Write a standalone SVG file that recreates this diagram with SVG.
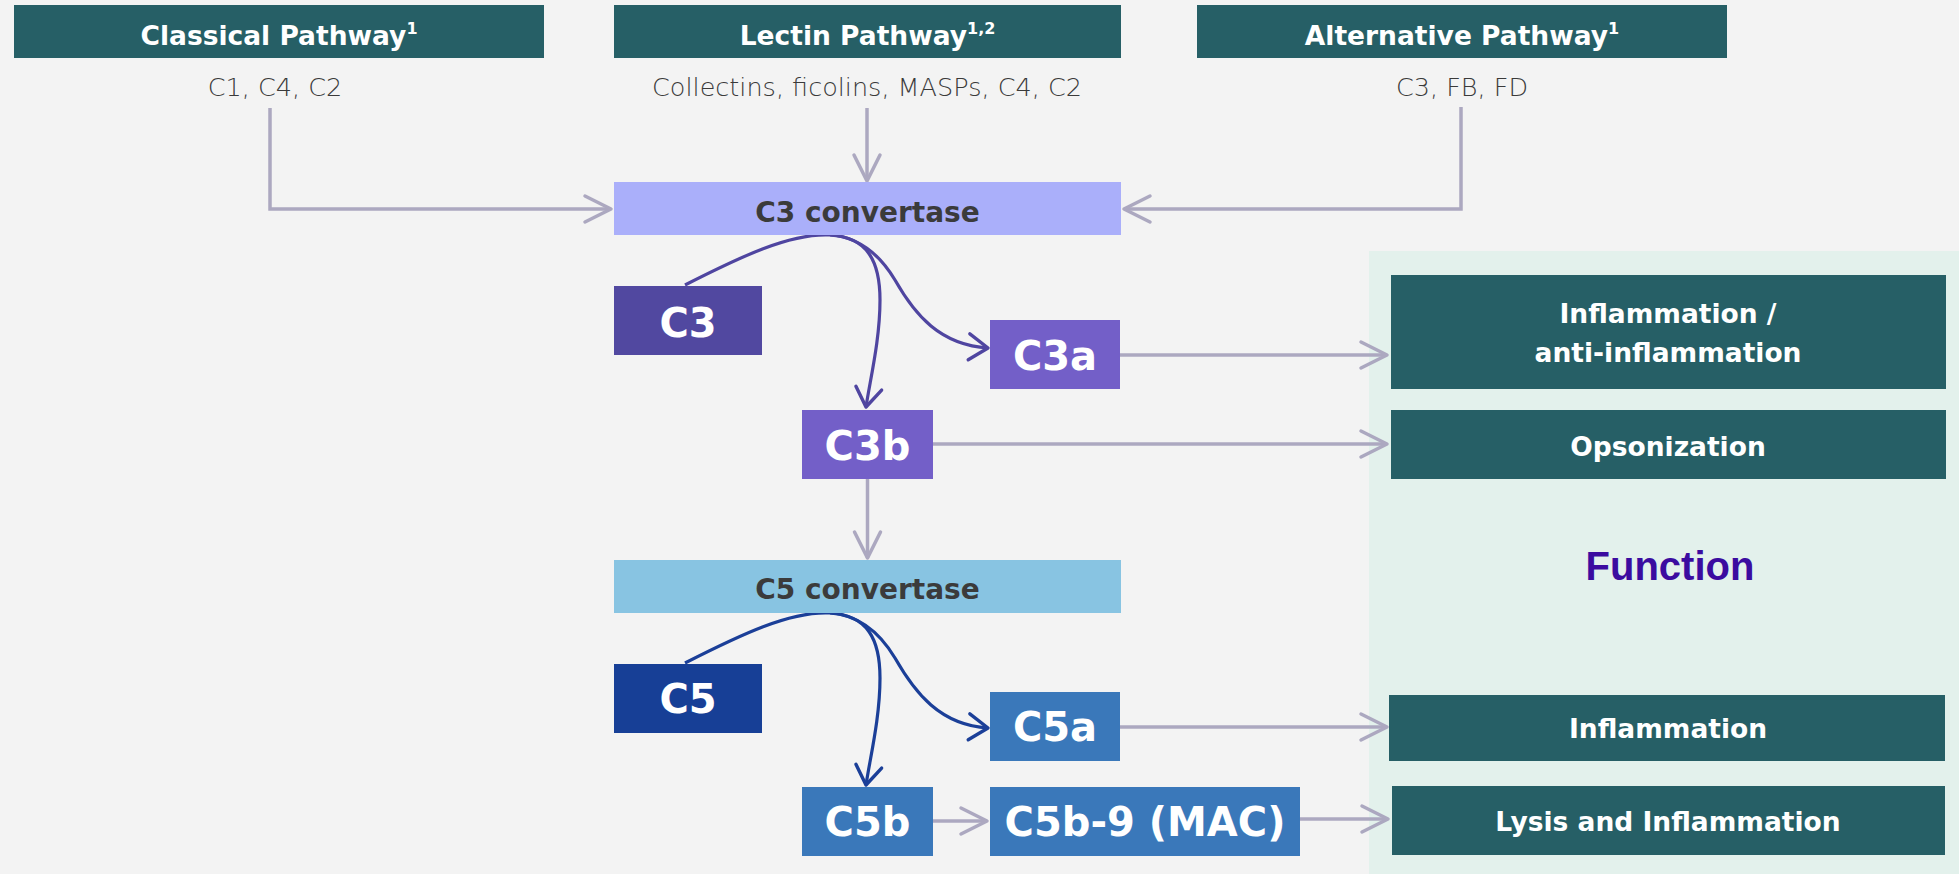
<svg xmlns="http://www.w3.org/2000/svg" width="1959" height="874" viewBox="0 0 1959 874">
  <style>
    .hdr { fill: #265f66; }
    .hdr-t { font-family: "DejaVu Sans", sans-serif; font-weight: bold; font-size: 26.5px; fill: #ffffff; text-anchor: middle; }
    .sup { font-size: 16px; }
    .sub { font-family: "DejaVu Sans", sans-serif; font-weight: 300; font-size: 25.5px; fill: #3a3a3a; text-anchor: middle; }
    .conv-t { font-family: "DejaVu Sans", sans-serif; font-weight: bold; font-size: 28px; fill: #3b3b3b; text-anchor: middle; }
    .box-t { font-family: "DejaVu Sans", sans-serif; font-weight: bold; font-size: 40px; fill: #ffffff; text-anchor: middle; }
    .fn-t { font-family: "DejaVu Sans", sans-serif; font-weight: bold; font-size: 26.5px; fill: #ffffff; text-anchor: middle; }
    .gray { fill: none; stroke: #aca8c0; stroke-width: 3.5; }
    .purple { fill: none; stroke: #4f45a0; stroke-width: 3.2; }
    .blue { fill: none; stroke: #1b3f98; stroke-width: 3.2; }
  </style>
  <defs>
    <marker id="arrGray" markerUnits="userSpaceOnUse" markerWidth="40" markerHeight="40" viewBox="-30 -20 40 40" refX="0" refY="0" orient="auto">
      <path d="M-26,-13 L0,0 L-26,13" fill="none" stroke="#aca8c0" stroke-width="3.5" stroke-linecap="round" stroke-linejoin="round"/>
    </marker>
    <marker id="arrPurple" markerUnits="userSpaceOnUse" markerWidth="40" markerHeight="40" viewBox="-30 -20 40 40" refX="0" refY="0" orient="auto">
      <path d="M-19,-13 L0,0 L-19,13" fill="none" stroke="#4f45a0" stroke-width="3.4" stroke-linecap="round" stroke-linejoin="round"/>
    </marker>
    <marker id="arrBlue" markerUnits="userSpaceOnUse" markerWidth="40" markerHeight="40" viewBox="-30 -20 40 40" refX="0" refY="0" orient="auto">
      <path d="M-19,-13 L0,0 L-19,13" fill="none" stroke="#1b3f98" stroke-width="3.4" stroke-linecap="round" stroke-linejoin="round"/>
    </marker>
  </defs>

  <!-- page background -->
  <rect x="0" y="0" width="1959" height="874" fill="#f3f3f3"/>

  <!-- function panel -->
  <g id="function-panel">
    <rect x="1369" y="251" width="590" height="623" fill="#e3f1ec"/>
    <text x="1670" y="580" font-family="'Liberation Sans', sans-serif" font-weight="bold" font-size="40" fill="#3b0ca0" text-anchor="middle">Function</text>
  </g>

  <!-- pathway headers -->
  <g id="classical-pathway">
    <rect class="hdr" x="14" y="5" width="530" height="53"/>
    <text class="hdr-t" x="279" y="45">Classical Pathway<tspan class="sup" dy="-11">1</tspan></text>
    <text class="sub" x="275" y="96">C1, C4, C2</text>
  </g>
  <g id="lectin-pathway">
    <rect class="hdr" x="614" y="5" width="507" height="53"/>
    <text class="hdr-t" x="867.5" y="45">Lectin Pathway<tspan class="sup" dy="-11">1,2</tspan></text>
    <text class="sub" x="867" y="96">Collectins, ficolins, MASPs, C4, C2</text>
  </g>
  <g id="alternative-pathway">
    <rect class="hdr" x="1197" y="5" width="530" height="53"/>
    <text class="hdr-t" x="1462" y="45">Alternative Pathway<tspan class="sup" dy="-11">1</tspan></text>
    <text class="sub" x="1462" y="96">C3, FB, FD</text>
  </g>

  <!-- connectors -->
  <g id="connectors">
    <path class="gray" d="M270,108 V209 H611" marker-end="url(#arrGray)"/>
    <path class="gray" d="M867,108 V181" marker-end="url(#arrGray)"/>
    <path class="gray" d="M1461,107 V209 H1124" marker-end="url(#arrGray)"/>
    <path class="gray" d="M1120,355 H1387" marker-end="url(#arrGray)"/>
    <path class="gray" d="M933,444 H1387" marker-end="url(#arrGray)"/>
    <path class="gray" d="M867.5,479 V558" marker-end="url(#arrGray)"/>
    <path class="gray" d="M1120,727 H1387" marker-end="url(#arrGray)"/>
    <path class="gray" d="M933,821 H987" marker-end="url(#arrGray)"/>
    <path class="gray" d="M1300,819 H1388" marker-end="url(#arrGray)"/>

    <path class="purple" d="M685,285 C740,257 790,233 830,235 C868,237 880,262 880,300 C880,340 870,380 866,407" marker-end="url(#arrPurple)"/>
    <path class="purple" d="M830,235 C860,237 880,255 895,280 C915,315 940,345 988,348" marker-end="url(#arrPurple)"/>

    <path class="blue" d="M685,663 C740,635 790,611 830,613 C868,615 880,640 880,678 C880,718 870,758 866,785" marker-end="url(#arrBlue)"/>
    <path class="blue" d="M830,613 C860,615 880,633 895,658 C915,693 940,725 988,728" marker-end="url(#arrBlue)"/>
  </g>

  <!-- C3 stage -->
  <g id="c3-convertase">
    <rect x="614" y="182" width="507" height="53" fill="#aaaffa"/>
    <text class="conv-t" x="867.5" y="222">C3 convertase</text>
  </g>
  <g id="c3">
    <rect x="614" y="286" width="148" height="69" fill="#5148a0"/>
    <text class="box-t" x="688" y="337">C3</text>
  </g>
  <g id="c3a">
    <rect x="990" y="320" width="130" height="69" fill="#735fc8"/>
    <text class="box-t" x="1055" y="370">C3a</text>
  </g>
  <g id="c3b">
    <rect x="802" y="410" width="131" height="69" fill="#735fc8"/>
    <text class="box-t" x="867.5" y="460">C3b</text>
  </g>

  <!-- C5 stage -->
  <g id="c5-convertase">
    <rect x="614" y="560" width="507" height="53" fill="#88c4e2"/>
    <text class="conv-t" x="867.5" y="599">C5 convertase</text>
  </g>
  <g id="c5">
    <rect x="614" y="664" width="148" height="69" fill="#173f96"/>
    <text class="box-t" x="688" y="713">C5</text>
  </g>
  <g id="c5a">
    <rect x="990" y="692" width="130" height="69" fill="#3a78ba"/>
    <text class="box-t" x="1055" y="741">C5a</text>
  </g>
  <g id="c5b">
    <rect x="802" y="787" width="131" height="69" fill="#3a78ba"/>
    <text class="box-t" x="867.5" y="836">C5b</text>
  </g>
  <g id="c5b-9-mac">
    <rect x="990" y="787" width="310" height="69" fill="#3a78ba"/>
    <text class="box-t" x="1145" y="836">C5b-9 (MAC)</text>
  </g>

  <!-- function outcomes -->
  <g id="fn-inflammation-anti">
    <rect class="hdr" x="1391" y="275" width="555" height="114"/>
    <text class="fn-t" x="1668" y="323">Inflammation /</text>
    <text class="fn-t" x="1668" y="362">anti-inflammation</text>
  </g>
  <g id="fn-opsonization">
    <rect class="hdr" x="1391" y="410" width="555" height="69"/>
    <text class="fn-t" x="1668" y="456">Opsonization</text>
  </g>
  <g id="fn-inflammation">
    <rect class="hdr" x="1389" y="695" width="556" height="66"/>
    <text class="fn-t" x="1668" y="738">Inflammation</text>
  </g>
  <g id="fn-lysis">
    <rect class="hdr" x="1392" y="786" width="553" height="69"/>
    <text class="fn-t" x="1668" y="831">Lysis and Inflammation</text>
  </g>
</svg>
